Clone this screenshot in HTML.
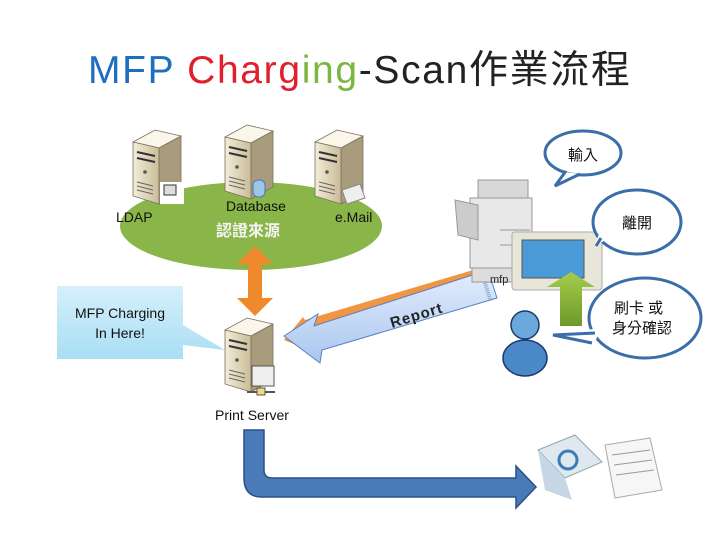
<!DOCTYPE html>
<html><head><meta charset="utf-8"><style>
body{margin:0;background:#fff;}
svg{display:block;font-family:"Liberation Sans","Noto Sans CJK TC",sans-serif;}
</style></head><body>
<svg width="720" height="540" viewBox="0 0 720 540" xmlns="http://www.w3.org/2000/svg">
<defs>
<linearGradient id="srv" x1="0" x2="1"><stop offset="0" stop-color="#f3ecd8"/><stop offset="1" stop-color="#c9bc98"/></linearGradient>
<linearGradient id="call" x1="0" y1="0" x2="0" y2="1"><stop offset="0" stop-color="#d6f0fb"/><stop offset="1" stop-color="#a8def4"/></linearGradient>
<linearGradient id="rep" x1="0" y1="0" x2="0" y2="1"><stop offset="0" stop-color="#e4eefc"/><stop offset="1" stop-color="#a9c6ef"/></linearGradient>
<linearGradient id="grn" x1="0" y1="0" x2="0" y2="1"><stop offset="0" stop-color="#a6cc4c"/><stop offset="1" stop-color="#6c9a2a"/></linearGradient>
<g id="server">
<path d="M0,12 L22,0 L48,6 L26,18 Z" fill="#faf6ea" stroke="#7a7060" stroke-width="0.8"/>
<path d="M26,18 L48,6 L48,62 L26,74 Z" fill="#a89c7c" stroke="#7a7060" stroke-width="0.8"/>
<path d="M0,12 L26,18 L26,74 L0,66 Z" fill="url(#srv)" stroke="#7a7060" stroke-width="0.8"/>
<path d="M4,22 L22,26 M4,28 L22,32" stroke="#333" stroke-width="2"/>
<circle cx="12" cy="42" r="1.8" fill="#555"/>
<path d="M4,52 L20,56 M4,56 L20,60 M4,60 L20,64" stroke="#666" stroke-width="1"/>
</g>
</defs>

<text x="88" y="83" font-size="39" textLength="542" lengthAdjust="spacing" fill="#1f6fc0">MFP <tspan fill="#e0202a">Charg</tspan><tspan fill="#7ab640">ing</tspan><tspan fill="#222">-Scan作業流程</tspan></text>

<!-- ellipse -->
<ellipse cx="251" cy="226" rx="131" ry="44" fill="#8ab548"/>
<use href="#server" x="133" y="130"/>
<rect x="160" y="182" width="24" height="22" fill="#fff"/>
<rect x="164" y="185" width="12" height="10" fill="#ddd" stroke="#333"/>
<use href="#server" x="225" y="125"/>
<rect x="253" y="180" width="12" height="17" rx="5" fill="#9cc6e8" stroke="#4a7aa8"/>
<use href="#server" x="315" y="130"/>
<path d="M342,190 L360,184 L365,198 L347,204Z" fill="#eee" stroke="#888"/>
<text x="116" y="222" font-size="14" fill="#111">LDAP</text>
<text x="226" y="211" font-size="14" fill="#111">Database</text>
<text x="216" y="236" font-size="16" font-weight="bold" fill="#f4f4f4">認證來源</text>
<text x="335" y="222" font-size="14" fill="#111">e.Mail</text>

<!-- orange double arrow -->
<path d="M255,246 L273,264 L262,264 L262,298 L273,298 L255,316 L237,298 L248,298 L248,264 L237,264 Z" fill="#ee8a2c"/>

<!-- callout -->
<path d="M57,286 L183,286 L183,325 L225,350 L183,345 L183,359 L57,359 Z" fill="url(#call)"/>
<text x="120" y="318" font-size="14" text-anchor="middle" fill="#111">MFP Charging</text>
<text x="120" y="338" font-size="14" text-anchor="middle" fill="#111">In Here!</text>

<!-- print server -->
<use href="#server" x="225" y="318"/>
<rect x="252" y="366" width="22" height="20" fill="#eee" stroke="#555"/>
<path d="M247,392 L275,392" stroke="#555" stroke-width="2"/>
<rect x="257" y="388" width="8" height="7" fill="#f4d880" stroke="#555"/>
<text x="252" y="420" font-size="14" text-anchor="middle" fill="#111">Print Server</text>

<!-- report arrow -->
<path d="M305,320 L480,268 L484,262 L492,290 L488,292 L315,340 L320,355 L284,340 L303,317 Z" fill="#ee8a2c" opacity="0.9"/>
<path d="M284,336 L318,314 L314,326 L488,270 L497,298 L322,350 L320,363 Z" fill="url(#rep)" stroke="#5a80c0" stroke-width="1"/>
<path d="M482,273 L490,299" stroke="#8aa8d8" stroke-width="4" stroke-dasharray="1,1"/>
<text x="392" y="328" font-size="15" fill="#222" transform="rotate(-17 392 328)" font-weight="bold" letter-spacing="1">Report</text>

<!-- U pipe -->
<path d="M244,430 L264,430 L264,470 Q264,478 272,478 L516,478 L516,466 L536,487 L516,508 L516,497 L262,497 Q244,497 244,478 Z" fill="#4a7ab8" stroke="#2a5088" stroke-width="1.5"/>

<!-- email -->
<path d="M538,450 L575,435 L602,462 L565,478 Z" fill="#dfe8ef" stroke="#8aa"/>
<path d="M538,450 L565,478 L572,500 L545,490 Z" fill="#c6d6e4"/>
<circle cx="568" cy="460" r="9" fill="none" stroke="#3a7ab8" stroke-width="3"/>
<path d="M605,445 L650,438 L662,490 L615,498 Z" fill="#f6f6f6" stroke="#aaa"/>
<path d="M612,455 L650,450 M614,465 L652,460 M616,475 L654,470" stroke="#999" stroke-width="1"/>

<!-- printer -->
<rect x="478" y="180" width="50" height="18" fill="#d8d8d8" stroke="#999"/>
<rect x="470" y="198" width="62" height="70" fill="#e8e8e8" stroke="#999"/>
<path d="M455,200 L478,205 L478,240 L458,235 Z" fill="#ccc" stroke="#999"/>
<path d="M500,230 L530,230 M500,245 L530,245" stroke="#999"/>
<rect x="472" y="268" width="58" height="14" fill="#ddd" stroke="#999"/>
<text x="490" y="283" font-size="11" fill="#222">mfp</text>
<!-- panel -->
<rect x="512" y="232" width="90" height="58" rx="3" fill="#e8e6d8" stroke="#aaa"/>
<rect x="522" y="240" width="62" height="38" fill="#4a9ad8" stroke="#555"/>
<!-- green arrow -->
<path d="M547,287 L571,272 L595,287 L582,287 L582,326 L560,326 L560,287 Z" fill="url(#grn)"/>
<!-- person -->
<ellipse cx="525" cy="358" rx="22" ry="18" fill="#4a88c8" stroke="#1a3a6a" stroke-width="1.5"/>
<circle cx="525" cy="325" r="14" fill="#6aa8dc" stroke="#1a3a6a" stroke-width="1.5"/>

<!-- bubbles -->
<g fill="#fff" stroke="#3a6ea8" stroke-width="3">
<ellipse cx="583" cy="153" rx="38" ry="22"/>
<ellipse cx="637" cy="222" rx="44" ry="32"/>
<ellipse cx="645" cy="318" rx="56" ry="40"/>
</g>
<path d="M566,172 L555,186 L580,174 Z" fill="#fff"/>
<path d="M600,232 L606,240 L594,246 Z" fill="#fff"/>
<path d="M596,340 L553,335 L600,328 Z" fill="#fff"/>
<g fill="none" stroke="#3a6ea8" stroke-width="3">
<path d="M566,171 L555,186 L580,174"/>
<path d="M601,238 L596,246"/>
<path d="M592,343 L553,335 L595,333"/>
</g>
<text x="583" y="160" font-size="15" text-anchor="middle" fill="#111">輸入</text>
<text x="637" y="228" font-size="15" text-anchor="middle" fill="#111">離開</text>
<text x="614" y="313" font-size="15" fill="#111">刷卡 或</text>
<text x="612" y="333" font-size="15" fill="#111">身分確認</text>
</svg>
</body></html>
